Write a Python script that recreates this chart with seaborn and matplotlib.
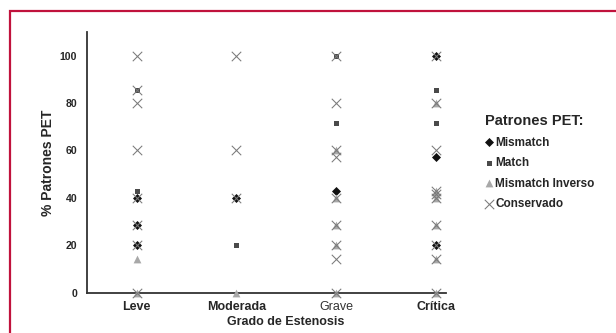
import matplotlib
matplotlib.use("Agg")
import matplotlib.pyplot as plt
from matplotlib.patches import Rectangle
import pandas as pd
import seaborn as sns

# Stenosis grades on the x axis
categories = ["Leve", "Moderada", "Grave", "Crítica"]

# Percentage of each PET pattern per stenosis grade
mismatch_cat = ["Leve", "Leve", "Leve", "Moderada", "Grave", "Crítica", "Crítica", "Crítica"]
mismatch_val = [40, 28.6, 20, 40, 42.9, 100, 57.1, 20]

match_cat = ["Leve", "Leve", "Moderada", "Grave", "Grave", "Crítica", "Crítica"]
match_val = [85.7, 42.9, 20, 100, 71.4, 85.7, 71.4]

inverso_cat = ["Leve", "Leve", "Moderada",
               "Grave", "Grave", "Grave", "Grave", "Grave",
               "Crítica", "Crítica", "Crítica", "Crítica", "Crítica", "Crítica", "Crítica"]
inverso_val = [14.3, 0, 0,
               60, 40, 28.6, 20, 0,
               80, 42.9, 41.7, 40, 28.6, 14.3, 0]

conservado_cat = ["Leve"] * 8 + ["Moderada"] * 3 + ["Grave"] * 9 + ["Crítica"] * 10
conservado_val = [100, 85.7, 80, 60, 40, 28.6, 20, 0,
                  100, 60, 40,
                  100, 80, 60, 57.1, 40, 28.6, 20, 14.3, 0,
                  100, 80, 60, 42.9, 41.7, 40, 28.6, 20, 14.3, 0]

series_names = ["Mismatch", "Match", "Mismatch Inverso", "Conservado"]

frames = []
for name, cats, vals in zip(series_names,
                            [mismatch_cat, match_cat, inverso_cat, conservado_cat],
                            [mismatch_val, match_val, inverso_val, conservado_val]):
    frames.append(pd.DataFrame({"grado": cats, "pct": vals, "patron": name}))
df = pd.concat(frames, ignore_index=True)

styles = {
    "Mismatch": dict(marker="D", color="#111111", size=4.6, linewidth=0),
    "Match": dict(marker="s", color="#4a4a4a", size=3.6, linewidth=0),
    "Mismatch Inverso": dict(marker="^", color="#a8a8a8", size=5.6, linewidth=0),
    "Conservado": dict(marker="x", color="#7a7a7a", size=6.8, linewidth=0.75),
}

sns.set_style("white")
plt.rcParams["font.family"] = ["Liberation Sans", "DejaVu Sans"]

fig = plt.figure(figsize=(6.16, 3.33), dpi=100)
ax = fig.add_axes([0.141, 0.121, 0.583, 0.783])

for i, name in enumerate(series_names):
    st = styles[name]
    sns.stripplot(data=df[df["patron"] == name], x="grado", y="pct",
                  order=categories, jitter=False, ax=ax, label=name,
                  clip_on=False, zorder=4 + i, **st)

ax.set_xlim(-0.5, 3.1)
ax.set_ylim(0, 110)
ax.set_yticks([0, 20, 40, 60, 80, 100])

sns.despine(ax=ax)
for side in ("left", "bottom"):
    ax.spines[side].set_color("#333333")
    ax.spines[side].set_linewidth(1.3)

ax.tick_params(axis="both", length=0)
ax.tick_params(axis="y", pad=7, labelsize=7.6)
ax.tick_params(axis="x", pad=6, labelsize=9)
for lbl in ax.get_yticklabels():
    lbl.set_fontweight("bold")
for lbl in ax.get_xticklabels():
    if lbl.get_text() == "Grave":
        lbl.set_fontweight("normal")
        lbl.set_color("#333333")
    else:
        lbl.set_fontweight("bold")

ax.set_xlabel("Grado de Estenosis", fontsize=9, fontweight="bold")
ax.set_ylabel("% Patrones PET", fontsize=10, fontweight="bold")
ax.xaxis.set_label_coords(0.555, -0.088)
ax.yaxis.set_label_coords(-0.09, 0.5)

# One legend entry per pattern
handles, labels = ax.get_legend_handles_labels()
seen = {}
for h, l in zip(handles, labels):
    if l not in seen:
        seen[l] = h
leg = ax.legend([seen[n] for n in series_names], series_names,
                title="Patrones PET:", loc="upper left",
                bbox_to_anchor=(485 / 616, 1 - 114 / 333),
                bbox_transform=fig.transFigure, frameon=False,
                prop=dict(weight="bold", size=8.5),
                title_fontproperties=dict(weight="bold", size=10.5),
                alignment="left", handletextpad=0.15, handlelength=0.7,
                labelspacing=0.72, borderpad=0, borderaxespad=0,
                scatterpoints=1)

# Crimson frame around the figure
fig.patches.append(Rectangle((9.5 / 616, -0.05), 1.2, 1 - 11.5 / 333 + 0.05,
                             transform=fig.transFigure, fill=False,
                             edgecolor="#c0123c", linewidth=1.6))

fig.savefig("out.png", dpi=100)
